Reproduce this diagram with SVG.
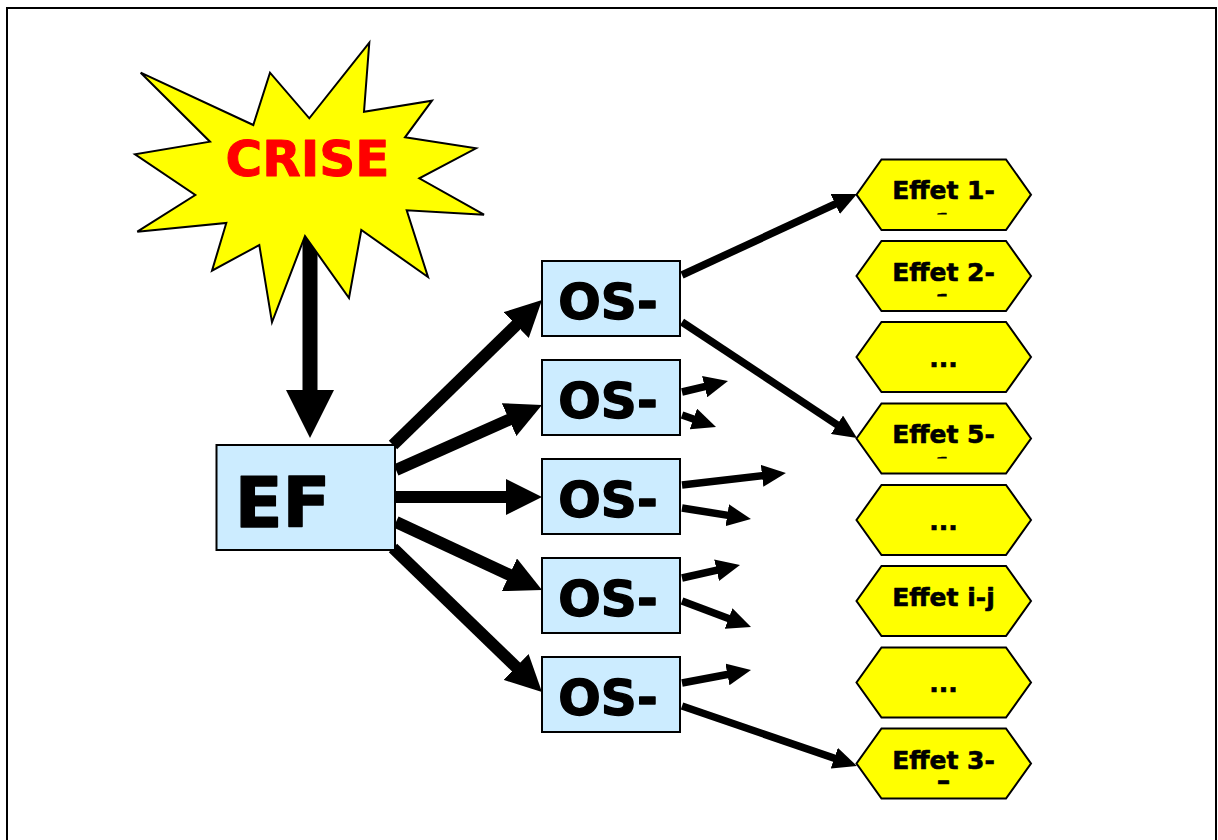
<svg xmlns="http://www.w3.org/2000/svg" width="1218" height="840" viewBox="0 0 1218 840">
<style>
text{font-family:"DejaVu Sans",Verdana,sans-serif;font-weight:700;text-anchor:middle;stroke-linejoin:round}
.box{fill:#CCECFF;stroke:#000;stroke-width:2}
.hex{fill:#FFFF00;stroke:#000;stroke-width:2;stroke-linejoin:miter}
.os{font-size:50px;fill:#000;stroke:#000;stroke-width:1.4}
.big{font-size:70px;fill:#000;stroke:#000;stroke-width:1.4}
.cr{font-size:50px;fill:#f00;stroke:#f00;stroke-width:1}
.eff{font-size:25px;fill:#000;stroke:#000;stroke-width:.6}
.thick{stroke:#000;stroke-width:12;fill:none;marker-end:url(#hThick)}
.thin{stroke:#000;stroke-width:7.5;fill:none;marker-end:url(#hThin)}
</style>
<defs>
<marker id="hThick" markerUnits="userSpaceOnUse" markerWidth="36" markerHeight="36" refX="18" refY="18" orient="auto"><path d="M0 0L36 18L0 36Z" fill="#000"/></marker>
<marker id="hThin" markerUnits="userSpaceOnUse" markerWidth="24" markerHeight="22" refX="12" refY="11" orient="auto"><path d="M0 0L24 11L0 22Z" fill="#000"/></marker>
<marker id="hMain" markerUnits="userSpaceOnUse" markerWidth="48" markerHeight="48" refX="24" refY="24" orient="auto"><path d="M0 0L48 24L0 48Z" fill="#000"/></marker>
<clipPath id="c1"><rect x="856" y="159" width="176" height="55.5"/></clipPath>
<clipPath id="c2"><rect x="856" y="241" width="176" height="55.5"/></clipPath>
<clipPath id="c5"><rect x="856" y="403" width="176" height="55.5"/></clipPath>
</defs>
<rect id="frame" x="7" y="8" width="1209" height="900" fill="#fff" stroke="#000" stroke-width="2"/>
<g id="connectors">
<line x1="310" y1="236" x2="310" y2="414" stroke="#000" stroke-width="15" marker-end="url(#hMain)"/>
<line class="thick" x1="393" y1="445" x2="529.1" y2="312.5"/>
<line class="thick" x1="396" y1="470" x2="525.5" y2="412.3"/>
<line class="thick" x1="396" y1="497" x2="524" y2="497"/>
<line class="thick" x1="396" y1="522" x2="525.7" y2="582.4"/>
<line class="thick" x1="393" y1="548" x2="529" y2="679.5"/>
<line class="thin" x1="682" y1="275" x2="846.1" y2="199"/>
<line class="thin" x1="682" y1="322" x2="847" y2="431.4"/>
<line class="thin" x1="682" y1="392" x2="716.3" y2="383.8"/>
<line class="thin" x1="682" y1="415" x2="704.7" y2="423"/>
<line class="thin" x1="682" y1="485" x2="774" y2="474.4"/>
<line class="thin" x1="682" y1="508" x2="739.1" y2="517.1"/>
<line class="thin" x1="682" y1="578" x2="728.3" y2="567.6"/>
<line class="thin" x1="682" y1="601" x2="739.8" y2="622.8"/>
<line class="thin" x1="682" y1="683" x2="739.2" y2="672.2"/>
<line class="thin" x1="682" y1="706" x2="845.6" y2="762.1"/>
</g>
<g id="crise">
<polygon points="140.7,72.7 253.3,125 270,72.7 309.3,118.3 369.3,42.7 364,111.7 432,100.7 405,137.3 476,148.3 419.3,178.3 484,214.7 406.7,210.3 428,277 361.3,230 349,298 305,236 272,322.3 259.3,245 212,270.7 226.3,223 137.3,231.7 195.3,195 135,154.3 210,141.7" fill="#FFFF00" stroke="#000" stroke-width="2"/>
<text class="cr" x="307.5" y="176">CRISE</text>
</g>
<g id="ef"><rect class="box" x="216.5" y="445" width="178.5" height="105"/><text class="big" x="282.5" y="527">EF</text></g>
<g id="os1"><rect class="box" x="542" y="261" width="138" height="75"/><text class="os" x="608" y="319">OS-</text></g>
<g id="os2"><rect class="box" x="542" y="360" width="138" height="75"/><text class="os" x="608" y="418">OS-</text></g>
<g id="os3"><rect class="box" x="542" y="459" width="138" height="75"/><text class="os" x="608" y="517">OS-</text></g>
<g id="os4"><rect class="box" x="542" y="558" width="138" height="75"/><text class="os" x="608" y="616">OS-</text></g>
<g id="os5"><rect class="box" x="542" y="657" width="138" height="75"/><text class="os" x="608" y="715">OS-</text></g>
<g id="effet1"><polygon class="hex" points="881.5,159.5 1006,159.5 1031,194.7 1006,230 881.5,230 856.5,194.7"/><text class="eff" x="943.5" y="230.5" clip-path="url(#c1)">1</text><text class="eff" x="943.5" y="199">Effet 1-</text></g>
<g id="effet2"><polygon class="hex" points="881.5,241 1006,241 1031,276 1006,311 881.5,311 856.5,276"/><text class="eff" x="943.5" y="312" clip-path="url(#c2)">1</text><text class="eff" x="943.5" y="280.5">Effet 2-</text></g>
<g id="dots1"><polygon class="hex" points="881.5,322 1006,322 1031,357 1006,392 881.5,392 856.5,357"/><text class="eff" x="943.5" y="367">...</text></g>
<g id="effet5"><polygon class="hex" points="881.5,403.5 1006,403.5 1031,438.5 1006,473.5 881.5,473.5 856.5,438.5"/><text class="eff" x="943.5" y="474.5" clip-path="url(#c5)">1</text><text class="eff" x="943.5" y="443">Effet 5-</text></g>
<g id="dots2"><polygon class="hex" points="881.5,485 1006,485 1031,520 1006,555 881.5,555 856.5,520"/><text class="eff" x="943.5" y="530">...</text></g>
<g id="effetij"><polygon class="hex" points="881.5,566 1006,566 1031,601 1006,636 881.5,636 856.5,601"/><text class="eff" x="943.5" y="605.5">Effet i-j</text></g>
<g id="dots3"><polygon class="hex" points="881.5,647.5 1006,647.5 1031,682.5 1006,717.5 881.5,717.5 856.5,682.5"/><text class="eff" x="943.5" y="692">...</text></g>
<g id="effet3"><polygon class="hex" points="881.5,728.5 1006,728.5 1031,763.5 1006,798.5 881.5,798.5 856.5,763.5"/><text class="eff" x="943.5" y="768.5">Effet 3-</text><text class="eff" x="943.5" y="790" style="font-size:27px">–</text></g>
</svg>
